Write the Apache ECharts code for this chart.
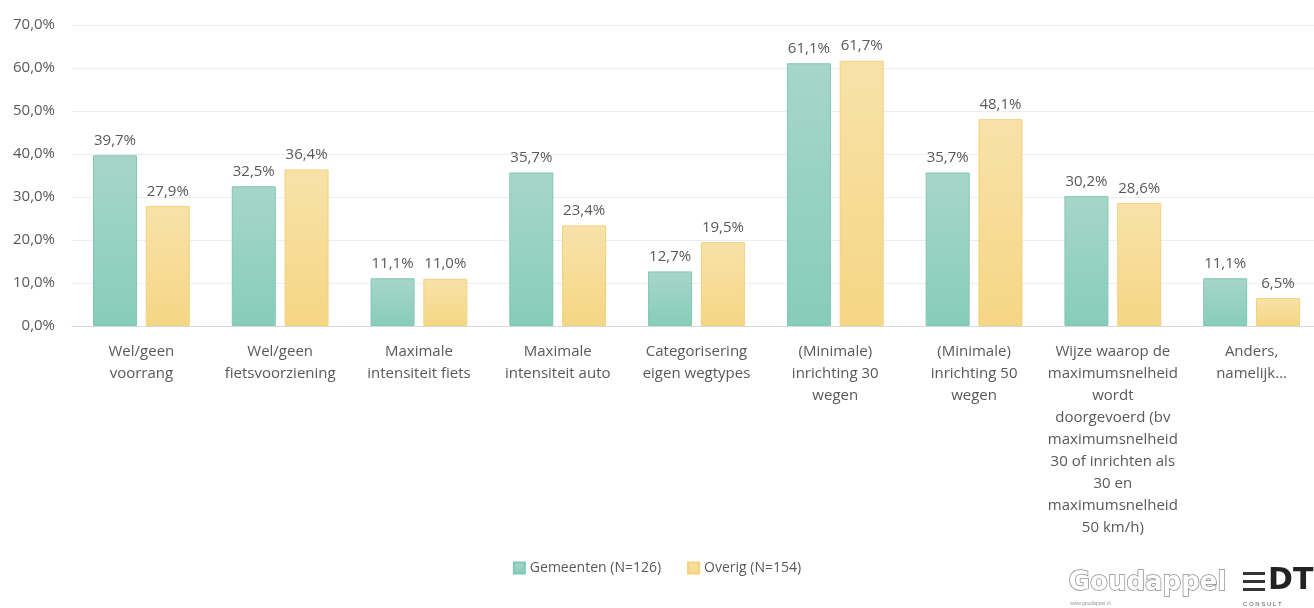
<!DOCTYPE html>
<html>
<head>
<meta charset="utf-8">
<script src="https://cdn.jsdelivr.net/npm/echarts@6/dist/echarts.min.js"></script>
<style>
  html, body { margin: 0; padding: 0; background: #fff; }
  #chart { width: 1314px; height: 608px; }
</style>
</head>
<body>
<div id="chart"></div>
<script>
// categorieen (met regeleinden zoals in het origineel)
var categories = [
  'Wel/geen\nvoorrang',
  'Wel/geen\nfietsvoorziening',
  'Maximale\nintensiteit fiets',
  'Maximale\nintensiteit auto',
  'Categorisering\neigen wegtypes',
  '(Minimale)\ninrichting 30\nwegen',
  '(Minimale)\ninrichting 50\nwegen',
  'Wijze waarop de\nmaximumsnelheid\nwordt\ndoorgevoerd (bv\nmaximumsnelheid\n30 of inrichten als\n30 en\nmaximumsnelheid\n50 km/h)',
  'Anders,\nnamelijk...'
];
var seriesNames = ['Gemeenten (N=126)', 'Overig (N=154)'];
var gemeenten = [39.7, 32.5, 11.1, 35.7, 12.7, 61.1, 35.7, 30.2, 11.1];
var overig = [27.9, 36.4, 11.0, 23.4, 19.5, 61.7, 48.1, 28.6, 6.5];
var yTicks = { min: 0, max: 70, interval: 10 };

var fontFam = '"Open Sans", "Noto Sans", sans-serif';
var textCol = '#595959';

function pct(v) {
  return v.toFixed(1).replace('.', ',') + '%';
}

function grad(top, bottom) {
  return new echarts.graphic.LinearGradient(0, 0, 0, 1, [
    { offset: 0, color: top },
    { offset: 1, color: bottom }
  ]);
}

var myChart = echarts.init(document.getElementById('chart'));
myChart.setOption({
  animation: false,
  textStyle: { fontFamily: fontFam },
  // grafiek loopt iets buiten de rechterrand, zoals in het origineel
  grid: {
    left: 72, width: 1249, top: 25, bottom: 282,
    containLabel: false, outerBoundsMode: 'none'
  },
  legend: {
    bottom: 28,
    left: 'center',
    itemWidth: 11,
    itemHeight: 11,
    itemGap: 26,
    icon: 'rect',
    textStyle: { color: textCol, fontSize: 14, fontFamily: fontFam },
    data: seriesNames
  },
  xAxis: {
    type: 'category',
    data: categories,
    axisLine: { lineStyle: { color: '#d9d9d9' } },
    axisTick: { show: false },
    axisLabel: {
      interval: 0,
      color: textCol,
      fontSize: 15,
      lineHeight: 22,
      margin: 15,
      align: 'center'
    }
  },
  yAxis: {
    type: 'value',
    min: yTicks.min,
    max: yTicks.max,
    interval: yTicks.interval,
    axisLine: { show: false },
    axisTick: { show: false },
    splitLine: { lineStyle: { color: '#ececf2' } },
    axisLabel: {
      color: textCol,
      fontSize: 15,
      margin: 17,
      formatter: function (v) { return v.toFixed(1).replace('.', ',') + '%'; }
    }
  },
  series: [
    {
      name: seriesNames[0],
      type: 'bar',
      data: gemeenten,
      barWidth: 44,
      barGap: '20%',
      itemStyle: {
        color: grad('#a7d6c9', '#86cdb9'),
        borderColor: '#80c8b3',
        borderWidth: 1
      },
      label: {
        show: true,
        position: 'top',
        distance: 7,
        color: textCol,
        fontSize: 15,
        formatter: function (p) { return pct(p.value); }
      }
    },
    {
      name: seriesNames[1],
      type: 'bar',
      data: overig,
      barWidth: 44,
      itemStyle: {
        color: grad('#f8e2a9', '#f5d684'),
        borderColor: '#f2d27a',
        borderWidth: 1
      },
      label: {
        show: true,
        position: 'top',
        distance: 7,
        color: textCol,
        fontSize: 15,
        formatter: function (p) { return pct(p.value); }
      }
    }
  ],
  color: ['#8ccfbc', '#f5d88c'],
  graphic: [
    {
      type: 'text',
      left: 1068,
      top: 569,
      style: {
        text: 'Goudappel',
        fill: '#ffffff',
        stroke: '#8c8c8c',
        lineWidth: 1.5,
        font: 'bold 26px "DejaVu Sans", sans-serif'
      }
    },
    {
      type: 'text',
      left: 1070,
      top: 601,
      style: { text: 'www.goudappel.nl', fill: '#999', font: '5px sans-serif' }
    },
    { type: 'rect', shape: { x: 1243, y: 572, width: 22, height: 3 }, style: { fill: '#333' } },
    { type: 'rect', shape: { x: 1243, y: 580, width: 22, height: 3 }, style: { fill: '#333' } },
    { type: 'rect', shape: { x: 1243, y: 588, width: 22, height: 3 }, style: { fill: '#333' } },
    {
      type: 'text',
      left: 1268,
      top: 566,
      style: { text: 'DT', fill: '#222', font: 'bold 30px "DejaVu Sans", sans-serif' }
    },
    {
      type: 'text',
      left: 1243,
      top: 601,
      style: { text: 'C O N S U L T', fill: '#555', font: '6px sans-serif' }
    }
  ]
});
</script>
</body>
</html>
